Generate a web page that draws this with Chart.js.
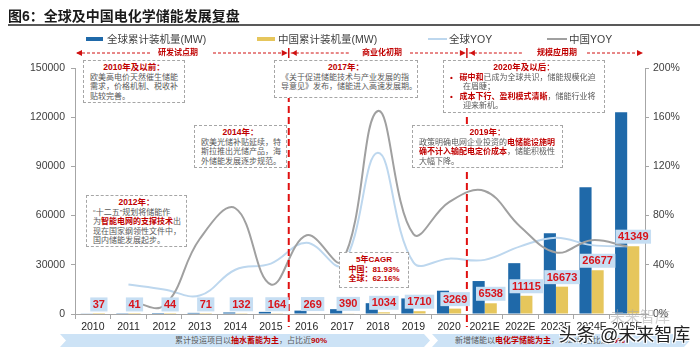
<!DOCTYPE html>
<html>
<head>
<meta charset="utf-8">
<script src="https://cdn.jsdelivr.net/npm/chart.js@4.4.0/dist/chart.umd.min.js"></script>
<style>
body{margin:0;background:#fff;}
#wrap{position:relative;width:700px;height:354px;overflow:hidden;font-family:"Liberation Sans","Noto Sans CJK SC",sans-serif;}
#myChart{position:absolute;left:0;top:0;}
.t{position:absolute;white-space:nowrap;}
.box{position:absolute;box-sizing:border-box;border:1.5px dashed #a6a6a6;background:#fff;padding:2px 0 0 6px;font-size:8px;line-height:9.5px;color:#595959;white-space:nowrap;}
.box .h{color:#c00000;font-weight:bold;text-align:center;font-size:8.5px;margin-left:-6px;}
.r{color:#c00000;font-weight:bold;}
.phase{position:absolute;top:48px;font-size:8px;line-height:10px;color:#c00000;font-weight:bold;transform:translateX(-50%);white-space:nowrap;}
.banner{position:absolute;top:334px;height:13px;background:#cde3f6;font-size:8px;line-height:13px;color:#595959;white-space:nowrap;
  clip-path:polygon(0 0,calc(100% - 6px) 0,100% 50%,calc(100% - 6px) 100%,0 100%,6px 50%);}
</style>
</head>
<body>
<div id="wrap">
  <canvas id="myChart" width="700" height="354"></canvas>

  <div class="t" style="left:8px;top:8px;font-size:14px;line-height:16px;font-weight:bold;color:#1a1a1a;">图6：全球及中国电化学储能发展复盘</div>
  <div style="position:absolute;left:8px;right:0;top:24px;height:2px;background:#595959;"></div>

  <!-- legend -->
  <div style="position:absolute;left:86px;top:37px;width:17px;height:4px;background:#1f69a9;"></div>
  <div class="t" style="left:107px;top:33px;font-size:10.5px;line-height:12px;color:#404040;">全球累计装机量(MW)</div>
  <div style="position:absolute;left:257px;top:37px;width:18px;height:4px;background:#e6c65c;"></div>
  <div class="t" style="left:278px;top:33px;font-size:10.5px;line-height:12px;color:#404040;">中国累计装机量(MW)</div>
  <div style="position:absolute;left:428px;top:38px;width:19px;height:2px;background:#bdd7ee;"></div>
  <div class="t" style="left:449px;top:33px;font-size:10.5px;line-height:12px;color:#404040;">全球YOY</div>
  <div style="position:absolute;left:547px;top:38px;width:20px;height:2px;background:#a0a0a0;"></div>
  <div class="t" style="left:569px;top:33px;font-size:10.5px;line-height:12px;color:#404040;">中国YOY</div>

  <!-- phases -->
  <div class="phase" style="left:178px;">研发试点期</div>
  <div class="phase" style="left:382px;">商业化初期</div>
  <div class="phase" style="left:557px;">规模应用期</div>

  <!-- note boxes -->
  <div class="box" style="left:83px;top:60px;width:102px;height:43px;">
    <div class="h">2010年及以前：</div>
    欧美高电价天然催生储能<br>需求，价格机制、税收补<br>贴较完善。
  </div>
  <div class="box" style="left:194px;top:125px;width:93px;height:43px;">
    <div class="h">2014年：</div>
    欧美光储补贴延续，特<br>斯拉推出光储产品，海<br>外储能发展逐步规范。
  </div>
  <div class="box" style="left:86px;top:195px;width:101px;height:52px;">
    <div class="h">2012年：</div>
    “十二五”规划将储能作<br>为<span class="r">智能电网的支撑技术</span>出<br>现在国家纲领性文件中，<br>国内储能发展起步。
  </div>
  <div class="box" style="left:274px;top:60px;width:144px;height:38px;">
    <div class="h">2017年：</div>
    《关于促进储能技术与产业发展的指<br>导意见》发布，储能进入高速发展期。
  </div>
  <div class="box" style="left:443px;top:60px;width:162px;height:53px;">
    <div class="h">2020年及以后：</div>
    <span class="r">•</span>&nbsp;&nbsp;&nbsp;<span class="r">碳中和</span>已成为全球共识，储能规模化迫<br>
    <span style="padding-left:13px;">在眉睫；</span><br>
    <span class="r">•</span>&nbsp;&nbsp;&nbsp;<span class="r">成本下行、盈利模式清晰</span>，储能行业将<br>
    <span style="padding-left:13px;">迎来新机。</span>
  </div>
  <div class="box" style="left:412px;top:125px;width:151px;height:43px;">
    <div class="h">2019年：</div>
    政策明确电网企业投资的<span class="r">电储能设施明</span><br><span class="r">确不计入输配电定价成本</span>，储能积极性<br>大幅下降。
  </div>
  <div class="box" style="left:339px;top:252px;width:70px;height:36px;padding-left:0;text-align:center;color:#c00000;font-weight:bold;">
    5年CAGR<br>中国：81.93%<br>全球：62.16%
  </div>

  <!-- bottom banners -->
  <div class="banner" style="left:60px;width:370px;">
    <div style="text-align:center;padding-left:12px;">累计投运项目以<span class="r">抽水蓄能为主</span>，占比近<span class="r">90%</span></div>
  </div>
  <div class="banner" style="left:432px;width:258px;">
    <div style="padding-left:23px;">新增储能以<span class="r">电化学储能为主</span>，2020年占比达<span class="r">49%</span></div>
  </div>

  <!-- watermark -->
  <div class="t" style="left:610px;top:309px;font-size:15px;line-height:16px;color:rgba(170,170,170,0.55);">未来智库</div>
  <div class="t" style="left:559px;top:326px;font-size:18px;line-height:19px;color:#222;text-shadow:-1px -1px 0 #fff,1px -1px 0 #fff,-1px 1px 0 #fff,1px 1px 0 #fff;">头条 @未来智库</div>
</div>

<script>
// categories
var years = ["2010", "2011", "2012", "2013", "2014", "2015", "2016", "2017", "2018", "2019", "2020", "2021E", "2022E", "2023E", "2024E", "2025E"];
// cumulative installed capacity, MW
var globalCum = [390, 490, 590, 680, 920, 1300, 2070, 2950, 6600, 9500, 14200, 20100, 31000, 49300, 77300, 123000];
var chinaCum = [37, 41, 44, 71, 132, 164, 269, 390, 1034, 1710, 3269, 6538, 11115, 16673, 26677, 41349];
// year on year growth, %
var globalYoy = [null, 24, 20, 15, 36, 41, 58, 40, 131, 42, 45, 44, 55, 62, 56, 55];
var chinaYoy = [null, 11, 7, 61, 86, 24, 64, 43, 165, 65, 91, 100, 71, 50, 60, 55];
// axis ticks
var leftTicks = [0, 30000, 60000, 90000, 120000, 150000];
var rightTicks = [0, 40, 80, 120, 160, 200];

// red phase dividers, boundaries after these categories
var dividerAfter = ["2015", "2020"];

function dashedArrow(ctx, x1, x2, y, head) {
  ctx.beginPath();
  ctx.setLineDash([3, 2]);
  ctx.moveTo(x1, y);
  ctx.lineTo(x2, y);
  ctx.stroke();
  ctx.setLineDash([]);
  if (head) {
    var d = x2 > x1 ? 1 : -1;
    ctx.beginPath();
    ctx.moveTo(x2 + d * 1, y);
    ctx.lineTo(x2 - d * 5, y - 3);
    ctx.lineTo(x2 - d * 5, y + 3);
    ctx.closePath();
    ctx.fill();
  }
}

var overlayPlugin = {
  id: "overlay",
  afterDatasetsDraw: function (chart) {
    var ctx = chart.ctx;
    var xs = chart.scales.x;
    var bounds = dividerAfter.map(function (lab) {
      var i = years.indexOf(lab);
      return (xs.getPixelForValue(i) + xs.getPixelForValue(i + 1)) / 2;
    });
    ctx.save();
    // vertical red dashed lines
    ctx.strokeStyle = "#e01010";
    ctx.lineWidth = 2;
    ctx.setLineDash([7, 4]);
    bounds.forEach(function (bx) {
      ctx.beginPath();
      ctx.moveTo(bx, 62);
      ctx.lineTo(bx, 327);
      ctx.stroke();
    });
    ctx.setLineDash([]);

    // phase arrows
    var y = 53;
    ctx.strokeStyle = "#d01010";
    ctx.fillStyle = "#d01010";
    ctx.lineWidth = 1;
    dashedArrow(ctx, 150, 77, y, true);
    dashedArrow(ctx, 213, bounds[0] - 2, y, true);
    dashedArrow(ctx, bounds[0] + 2, 350, y, false);
    ctx.beginPath(); ctx.moveTo(bounds[0] + 3, y); ctx.lineTo(bounds[0] + 8, y - 3); ctx.lineTo(bounds[0] + 8, y + 3); ctx.fill();
    dashedArrow(ctx, 410, bounds[1] - 2, y, true);
    dashedArrow(ctx, bounds[1] + 2, 523, y, false);
    ctx.beginPath(); ctx.moveTo(bounds[1] + 3, y); ctx.lineTo(bounds[1] + 8, y - 3); ctx.lineTo(bounds[1] + 8, y + 3); ctx.fill();
    dashedArrow(ctx, 587, 642, y, true);
    ctx.lineWidth = 1.5;
    bounds.forEach(function (bx) {
      ctx.beginPath();
      ctx.moveTo(bx, y - 5);
      ctx.lineTo(bx, y + 5);
      ctx.stroke();
    });

    // value labels on china bars
    var meta = chart.getDatasetMeta(3);
    ctx.font = 'bold 11px "Liberation Sans", Arial, sans-serif';
    ctx.textAlign = "center";
    ctx.textBaseline = "middle";
    meta.data.forEach(function (bar, i) {
      var txt = String(chinaCum[i]);
      var w = ctx.measureText(txt).width + 5;
      var cy = bar.y - 9.5;
      ctx.fillStyle = "#c6def3";
      ctx.fillRect(bar.x - w / 2, cy - 7, w, 14);
      ctx.fillStyle = "#d9141b";
      ctx.fillText(txt, bar.x, cy + 0.5);
    });
    ctx.restore();
  }
};

const ctx = document.getElementById("myChart");
window.chart = new Chart(ctx, {
  data: {
    labels: years,
    datasets: [
      {
        type: "line",
        label: "全球YOY",
        data: globalYoy,
        yAxisID: "y1",
        borderColor: "#bdd7ee",
        borderWidth: 2,
        pointRadius: 0,
        tension: 0.4,
        order: 2,
      },
      {
        type: "line",
        label: "中国YOY",
        data: chinaYoy,
        yAxisID: "y1",
        borderColor: "#a0a0a0",
        borderWidth: 2,
        pointRadius: 0,
        tension: 0.4,
        order: 1,
      },
      {
        type: "bar",
        label: "全球累计装机量(MW)",
        data: globalCum,
        yAxisID: "y",
        backgroundColor: "#1f69a9",
        categoryPercentage: 0.68,
        barPercentage: 1,
        order: 3,
      },
      {
        type: "bar",
        label: "中国累计装机量(MW)",
        data: chinaCum,
        yAxisID: "y",
        backgroundColor: "#e6c65c",
        categoryPercentage: 0.68,
        barPercentage: 1,
        order: 4,
      },
    ],
  },
  options: {
    responsive: false,
    animation: false,
    devicePixelRatio: 1,
    layout: { padding: { top: 68, left: 0, right: 0, bottom: 0 } },
    plugins: { legend: { display: false }, tooltip: { enabled: false } },
    scales: {
      x: {
        grid: { display: true, drawOnChartArea: false, offset: true, tickLength: 5, color: "#a6a6a6" },
        border: { color: "#a6a6a6", width: 1 },
        ticks: { color: "#262626", font: { size: 10.5 }, padding: 2, maxRotation: 0, autoSkip: false },
        afterFit: function (s) { s.height = 40; },
      },
      y: {
        position: "left",
        min: leftTicks[0],
        max: leftTicks[leftTicks.length - 1],
        afterBuildTicks: function (s) { s.ticks = leftTicks.map(function (v) { return { value: v }; }); },
        ticks: { color: "#404040", font: { size: 10.5 }, padding: 6, callback: function (v) { return String(v); } },
        grid: { drawOnChartArea: false, tickLength: 4, color: "#a6a6a6" },
        border: { color: "#a6a6a6" },
        afterFit: function (s) { s.width = 75; },
      },
      y1: {
        position: "right",
        min: rightTicks[0],
        max: rightTicks[rightTicks.length - 1],
        afterBuildTicks: function (s) { s.ticks = rightTicks.map(function (v) { return { value: v }; }); },
        ticks: { color: "#404040", font: { size: 10.5 }, padding: 4, callback: function (v) { return v + "%"; } },
        grid: { drawOnChartArea: false, tickLength: 4, color: "#a6a6a6" },
        border: { color: "#a6a6a6" },
        afterFit: function (s) { s.width = 55; },
      },
    },
  },
  plugins: [overlayPlugin],
});
</script>
</body>
</html>
